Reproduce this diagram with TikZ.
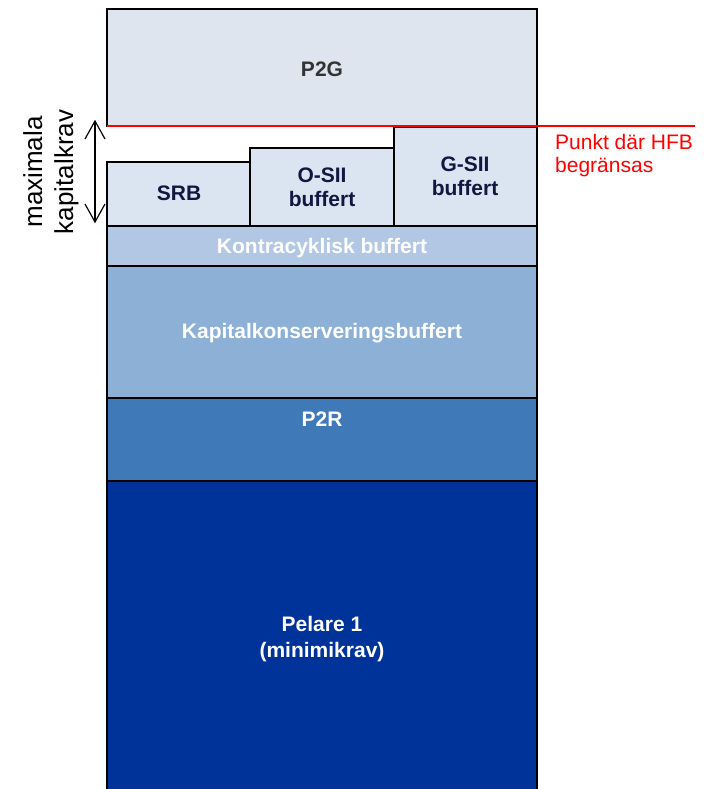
\documentclass[tikz,border=0pt]{standalone}
\usepackage{fontspec}
\setmainfont{Liberation Sans}

\definecolor{ptwog}{HTML}{DFE5EE}
\definecolor{bufflight}{HTML}{DBE5F1}
\definecolor{kontra}{HTML}{B2C7E4}
\definecolor{kapkons}{HTML}{8DB0D7}
\definecolor{ptwor}{HTML}{4079B8}
\definecolor{pelare}{HTML}{003399}
\definecolor{navytext}{HTML}{101840}
\definecolor{graytext}{HTML}{333333}

\tikzset{
    kravbox/.style={draw=black, line width=1.5pt},
    darklabel/.style={font=\bfseries\fontsize{21}{24}\selectfont, text=navytext, align=center, inner sep=0pt},
    lightlabel/.style={font=\bfseries\fontsize{21}{26}\selectfont, text=white, align=center, inner sep=0pt},
}

\begin{document}
\begin{tikzpicture}[x=1pt, y=-1pt]
    \useasboundingbox (0,0) rectangle (712,789);

    % stacked requirements, bottom part
    \draw[kravbox, fill=pelare] (107,481) rectangle (537,800);
    \draw[kravbox, fill=ptwor] (107,398) rectangle (537,481);
    \draw[kravbox, fill=kapkons] (107,266) rectangle (537,398);
    \draw[kravbox, fill=kontra] (107,226) rectangle (537,266);

    % buffers side by side
    \draw[kravbox, fill=bufflight] (107,162) rectangle (250,226);
    \draw[kravbox, fill=bufflight] (250,148) rectangle (394,226);
    \draw[kravbox, fill=bufflight] (394,127) rectangle (537,226);

    \draw[kravbox, fill=ptwog] (107,9) rectangle (537,126);

    % limit line
    \coordinate (hfbleft) at (107,126);
    \coordinate (hfbright) at (695,126);
    \draw[red, line width=2pt] (hfbleft) -- (hfbright);

    % labels
    \node[darklabel, text=graytext] (ptwogl) at (322,69) {P2G};
    \node[darklabel] (srbl) at (179,193) {SRB};
    \node[darklabel] (osiil) at (322,187) {O-SII\\buffert};
    \node[darklabel] (gsiil) at (465,176) {G-SII\\buffert};
    \node[lightlabel] (kontral) at (322,248) {Kontracyklisk buffert};
    \node[lightlabel] (kapkonsl) at (322,333) {Kapitalkonserveringsbuffert};
    \node[lightlabel] (ptworl) at (322,419) {P2R};
    \node[lightlabel] (pelarel) at (322,639) {Pelare 1\\(minimikrav)};

    \node[text=red, align=left, anchor=north west, inner sep=0pt,
          font=\fontsize{21}{23.5}\selectfont] (hfbtext) at (555,134) {Punkt där HFB\\begränsas};

    % maximal capital requirement, open barbs at both ends
    \coordinate (maxtop) at (95,121);
    \coordinate (maxbot) at (95,222);
    \draw[line width=1.2pt] (maxtop) -- (maxbot);
    \draw[line width=1.2pt] ([shift={(-10,18)}]maxtop) -- (maxtop) -- ([shift={(10,18)}]maxtop);
    \draw[line width=1.2pt] ([shift={(-10,-18)}]maxbot) -- (maxbot) -- ([shift={(10,-18)}]maxbot);
    \node[rotate=90, align=center, inner sep=0pt,
          font=\fontsize{26}{31}\selectfont] (maxtext) at (51,172) {maximala\\kapitalkrav};
\end{tikzpicture}
\end{document}
